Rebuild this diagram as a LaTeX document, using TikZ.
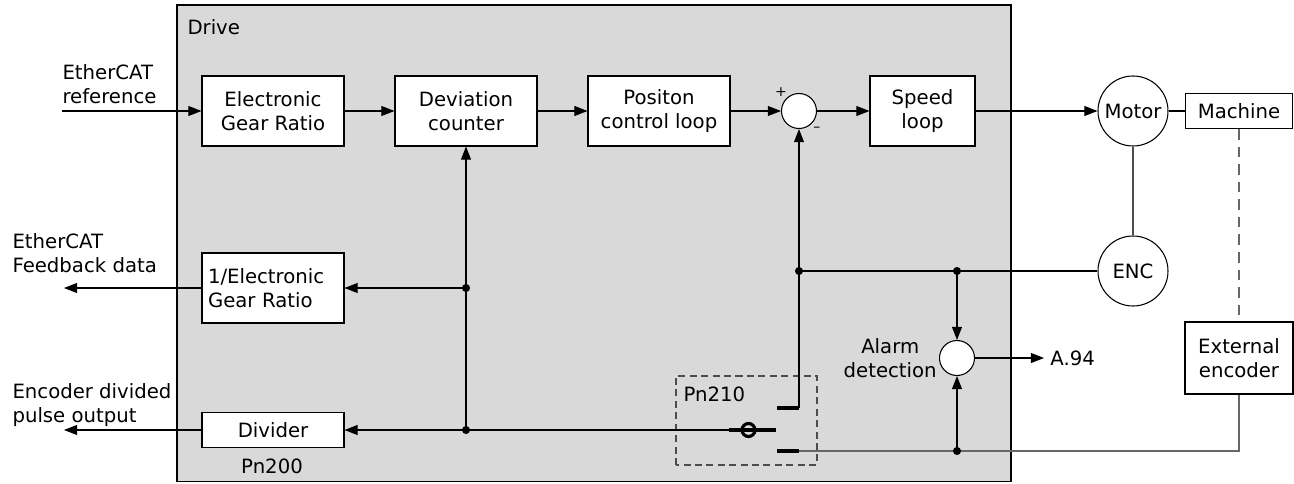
\documentclass[tikz,border=0pt]{standalone}
\usepackage{fontspec}
\setmainfont{DejaVu Sans}
\usetikzlibrary{arrows.meta}

\begin{document}
\begin{tikzpicture}[font=\fontsize{11.2}{13.7}\selectfont, line width=0.6pt,
    blk/.style={draw, fill=white, minimum width=2.84cm, minimum height=1.4cm, align=center, inner sep=2pt},
    sumc/.style={draw, fill=white, circle, minimum size=0.7cm, inner sep=0pt},
    unit/.style={draw, fill=white, circle, minimum size=1.4cm, inner sep=0pt},
    arr/.style={-{Triangle[length=7.5pt,width=5.7pt]}},
    contact/.style={line width=1.8pt}]
    \useasboundingbox (0,0) rectangle (25.88,9.66);
    % drive
    \draw[fill=black!15] (3.54,0.03) rectangle (20.22,9.56);
    \node[anchor=base west, inner sep=0] (drive) at (3.74,8.96) {Drive};
    % forward path
    \node[anchor=west, align=left, inner sep=0] (reflbl) at (1.24,7.98) {EtherCAT\\reference};
    \coordinate (refin) at (1.24,7.44);
    \node[blk] (egr) at (5.46,7.44) {Electronic\\Gear Ratio};
    \node[blk] (dev) at (9.32,7.44) {Deviation\\counter};
    \node[blk] (pos) at (13.18,7.44) {Positon\\control loop};
    \node[sumc] (sum) at (15.98,7.44) {};
    \node[font=\footnotesize] (plus) at (15.62,7.82) {+};
    \node[font=\footnotesize] (minus) at (16.34,7.08) {–};
    \node[blk, minimum width=2.1cm] (spd) at (18.45,7.44) {Speed\\loop};
    \node[unit] (motor) at (22.66,7.44) {Motor};
    \node[draw, fill=white, minimum width=2.14cm, minimum height=0.7cm] (mach) at (24.78,7.44) {Machine};
    \node[unit] (enc) at (22.66,4.24) {ENC};
    \node[draw, fill=white, minimum width=2.16cm, minimum height=1.44cm, align=center] (ext) at (24.78,2.50) {External\\encoder};
    \draw[arr] (refin) -- (egr);
    \draw[arr] (egr) -- (dev);
    \draw[arr] (dev) -- (pos);
    \draw[arr] (pos) -- (sum);
    \draw[arr] (sum) -- (spd);
    \draw[arr] (spd) -- (motor);
    \draw (motor) -- (mach);
    \draw[black!70] (motor) -- (enc);
    \draw[black!60, dashed, dash pattern=on 6pt off 4pt] (mach) -- (ext);
    % feedback outputs
    \node[anchor=west, align=left, inner sep=0] (fblbl) at (0.24,4.60) {EtherCAT\\Feedback data};
    \node[anchor=west, align=left, inner sep=0] (pulselbl) at (0.24,1.56) {Encoder divided\\pulse output};
    \node[blk, text width=2.6cm, align=left, inner xsep=0.12cm] (iegr) at (5.46,3.90) {1/Electronic\\Gear Ratio};
    \node[blk, minimum height=0.7cm] (div) at (5.46,1.06) {Divider};
    \node (pn200) at (5.44,0.34) {Pn200};
    \coordinate (fbout) at (1.28,3.90);
    \coordinate (pulseout) at (1.28,1.06);
    \coordinate (jfb) at (9.32,3.90);
    \coordinate (jdiv) at (9.32,1.06);
    \draw[arr] (jdiv) -- (dev);
    \draw[arr] (jfb) -- (iegr);
    \draw[arr] (jdiv) -- (div);
    \draw[arr] (iegr) -- (fbout);
    \draw[arr] (div) -- (pulseout);
    % Pn210 switch
    \draw[black!70, dashed, dash pattern=on 4pt off 2.5pt] (13.52,0.36) rectangle (16.34,2.14);
    \node[anchor=base west, inner sep=0] (pnlbl) at (13.66,1.64) {Pn210};
    \coordinate (swup) at (15.98,1.50);
    \coordinate (swlo) at (15.98,0.64);
    \draw[contact] (15.54,1.50) -- (swup);
    \draw[contact] (15.54,0.64) -- (swlo);
    \draw[contact] (14.58,1.06) -- (15.52,1.06);
    \node[circle, draw, line width=1.8pt, minimum size=0.26cm, inner sep=0pt] (piv) at (14.97,1.06) {};
    \draw (jdiv) -- (piv);
    \draw[arr] (swup) -- (sum);
    % alarm detection
    \node[sumc] (alarm) at (19.14,2.50) {};
    \node[anchor=east, align=center, inner sep=1pt] (alarmlbl) at (alarm.west) {Alarm\\detection};
    \node[anchor=west] (a94) at (20.88,2.50) {A.94};
    \coordinate (jsum) at (15.98,4.24);
    \coordinate (jenc) at (19.14,4.24);
    \coordinate (jext) at (19.14,0.64);
    \draw (enc) -- (jsum);
    \draw[black!60] (ext) |- (swlo);
    \draw[arr] (jenc) -- (alarm);
    \draw[arr] (jext) -- (alarm);
    \draw[arr] (alarm) -- (a94);
    % junction dots
    \foreach \j in {jfb,jdiv,jsum,jenc,jext}
      \fill (\j) circle (2.3pt);
\end{tikzpicture}
\end{document}
